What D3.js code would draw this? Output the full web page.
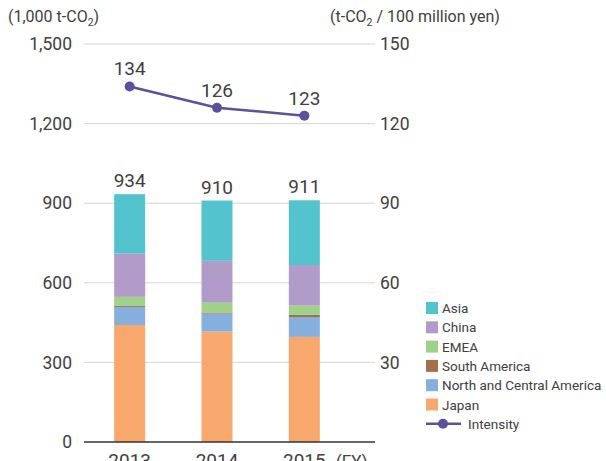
<!DOCTYPE html>
<html>
<head>
<meta charset="utf-8">
<script src="https://cdn.jsdelivr.net/npm/d3@7"></script>
<style>
  body { margin: 0; background: #fff; }
  svg { font-family: Roboto, "Liberation Sans", sans-serif; }
</style>
</head>
<body>
<svg id="chart" width="606" height="461"></svg>
<script>
const years = ["2013", "2014", "2015"];
const japan = [441, 416, 396];
const northCentralAmerica = [68, 68, 75];
const southAmerica = [4, 4, 8];
const emea = [34, 37, 35];
const china = [163, 158, 153];
const asia = [224, 227, 244];
const totals = [934, 910, 911];
const intensity = [134, 126, 123];
const leftTicks = [0, 300, 600, 900, 1200, 1500];
const rightTicks = [30, 60, 90, 120, 150];

const seriesNames = ["Japan", "North and Central America", "South America", "EMEA", "China", "Asia"];
const seriesValues = [japan, northCentralAmerica, southAmerica, emea, china, asia];
const colors = ["#f8a86d", "#86afdd", "#a2704a", "#9fd189", "#b19bc9", "#53c3cd"];
const lineColor = "#5c509e";
const textColor = "#404040";

const svg = d3.select("#chart");

const plotLeft = 84, plotRight = 375, plotTop = 44, plotBottom = 442;

const x = d3.scaleBand()
    .domain(years)
    .range([86, 348])
    .paddingInner(0.645)
    .paddingOuter(0.3225);

const y = d3.scaleLinear().domain([0, 1500]).range([plotBottom, plotTop]);
const y2 = d3.scaleLinear().domain([0, 150]).range([plotBottom, plotTop]);

// grid lines
svg.append("g")
    .selectAll("line")
    .data(leftTicks.filter(d => d > 0))
    .join("line")
    .attr("x1", plotLeft).attr("x2", plotRight)
    .attr("y1", d => y(d)).attr("y2", d => y(d))
    .attr("stroke", "#d6d6d6")
    .attr("stroke-width", 1);

// left axis
const yAxis = d3.axisLeft(y).tickValues(leftTicks).tickSize(0).tickPadding(0)
    .tickFormat(d3.format(","));
svg.append("g")
    .attr("transform", "translate(72,0)")
    .call(yAxis)
    .call(g => g.select(".domain").remove())
    .selectAll("text")
    .attr("font-size", 17.5)
    .attr("fill", textColor)
    .attr("font-family", "Roboto, sans-serif");

// right axis
const y2Axis = d3.axisRight(y2).tickValues(rightTicks).tickSize(0).tickPadding(0);
svg.append("g")
    .attr("transform", "translate(380,0)")
    .call(y2Axis)
    .call(g => g.select(".domain").remove())
    .selectAll("text")
    .attr("font-size", 17.5)
    .attr("fill", textColor)
    .attr("font-family", "Roboto, sans-serif");

// stacked bars
const table = years.map((yr, i) => {
    const row = { year: yr };
    seriesNames.forEach((s, j) => row[s] = seriesValues[j][i]);
    return row;
});
const stacked = d3.stack().keys(seriesNames)(table);

svg.append("g")
    .selectAll("g")
    .data(stacked)
    .join("g")
    .attr("fill", (d, i) => colors[i])
    .selectAll("rect")
    .data(d => d)
    .join("rect")
    .attr("x", d => x(d.data.year))
    .attr("width", x.bandwidth())
    .attr("y", d => y(d[1]))
    .attr("height", d => y(d[0]) - y(d[1]));

// baseline
svg.append("line")
    .attr("x1", plotLeft).attr("x2", plotRight)
    .attr("y1", plotBottom).attr("y2", plotBottom)
    .attr("stroke", "#333")
    .attr("stroke-width", 1.5);

// totals
svg.append("g")
    .selectAll("text")
    .data(totals)
    .join("text")
    .attr("x", (d, i) => x(years[i]) + x.bandwidth() / 2)
    .attr("y", d => y(d) - 7)
    .attr("text-anchor", "middle")
    .attr("font-size", 19)
    .attr("fill", textColor)
    .text(d => d);

// x labels
svg.append("g")
    .selectAll("text")
    .data(years)
    .join("text")
    .attr("x", d => x(d) + x.bandwidth() / 2)
    .attr("y", 467)
    .attr("text-anchor", "middle")
    .attr("font-size", 19)
    .attr("fill", textColor)
    .text(d => d);
svg.append("text")
    .attr("x", 336).attr("y", 467)
    .attr("font-size", 17)
    .attr("fill", textColor)
    .text("(FY)");

// intensity line
const cx = (d, i) => x(years[i]) + x.bandwidth() / 2;
const line = d3.line().x(cx).y(d => y2(d));
svg.append("path")
    .datum(intensity)
    .attr("d", line)
    .attr("fill", "none")
    .attr("stroke", lineColor)
    .attr("stroke-width", 2.5);
svg.append("g")
    .selectAll("circle")
    .data(intensity)
    .join("circle")
    .attr("cx", cx)
    .attr("cy", d => y2(d))
    .attr("r", 5)
    .attr("fill", lineColor);
svg.append("g")
    .selectAll("text")
    .data(intensity)
    .join("text")
    .attr("x", cx)
    .attr("y", d => y2(d) - 11)
    .attr("text-anchor", "middle")
    .attr("font-size", 19)
    .attr("fill", textColor)
    .text(d => d);

// unit titles
const t1 = svg.append("text").attr("x", 8).attr("y", 22)
    .attr("font-size", 16).attr("fill", textColor);
t1.append("tspan").text("(1,000 t-CO");
t1.append("tspan").attr("font-size", 10.5).attr("dy", 4).text("2");
t1.append("tspan").attr("dy", -4).text(")");

const t2 = svg.append("text").attr("x", 330).attr("y", 22)
    .attr("font-size", 16).attr("fill", textColor);
t2.append("tspan").text("(t-CO");
t2.append("tspan").attr("font-size", 10.5).attr("dy", 4).text("2");
t2.append("tspan").attr("dy", -4).text(" / 100 million yen)");

// legend
const legendNames = seriesNames.slice().reverse();
const legendColors = colors.slice().reverse();
const legend = svg.append("g").attr("transform", "translate(426,302)");
legend.selectAll("rect")
    .data(legendNames)
    .join("rect")
    .attr("x", 0)
    .attr("y", (d, i) => i * 19.3)
    .attr("width", 12).attr("height", 12)
    .attr("fill", (d, i) => legendColors[i]);
legend.selectAll("text.lab")
    .data(legendNames)
    .join("text")
    .attr("class", "lab")
    .attr("x", 16)
    .attr("y", (d, i) => i * 19.3 + 11)
    .attr("font-size", 13.5)
    .attr("fill", textColor)
    .text(d => d);
const ly = 6 * 19.3 + 6;
legend.append("line")
    .attr("x1", 0).attr("x2", 35)
    .attr("y1", ly).attr("y2", ly)
    .attr("stroke", lineColor).attr("stroke-width", 2.5);
legend.append("circle")
    .attr("cx", 17).attr("cy", ly).attr("r", 5).attr("fill", lineColor);
legend.append("text")
    .attr("x", 42).attr("y", ly + 5)
    .attr("font-size", 13.5)
    .attr("fill", textColor)
    .text("Intensity");
</script>
</body>
</html>
